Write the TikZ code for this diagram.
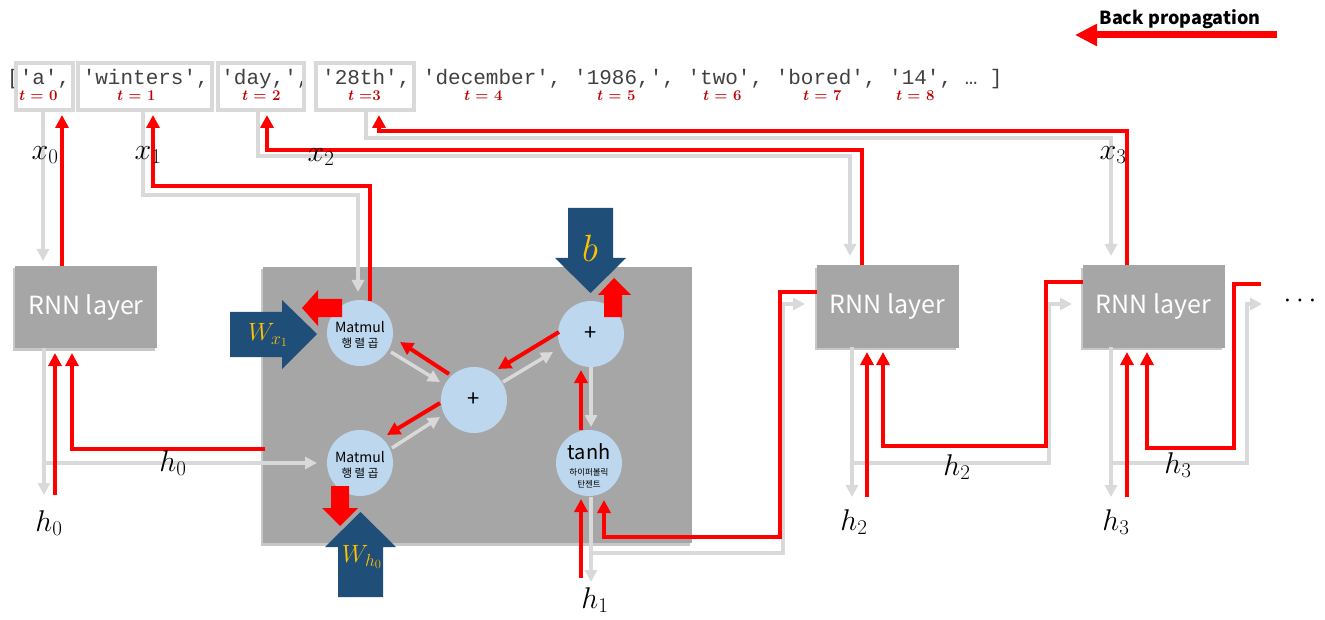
\RequirePackage{fix-cm}
\documentclass[tikz,border=0pt]{standalone}
\usepackage{fontspec}
\setmonofont{Liberation Mono}
\newfontfamily\krfont{Noto Sans CJK KR}
\usetikzlibrary{arrows.meta}
\definecolor{lg}{HTML}{D9D9D9}
\definecolor{boxg}{HTML}{A6A6A6}
\definecolor{cblue}{HTML}{BDD7EE}
\definecolor{dblue}{HTML}{1F4E79}
\definecolor{gold}{HTML}{FFC000}
\definecolor{dred}{HTML}{C00000}
\definecolor{rred}{HTML}{FF0000}
\definecolor{tokc}{HTML}{404040}
\begin{document}
\begin{tikzpicture}[x=1pt,y=-1pt,
 gl/.style={draw=lg,line width=3.5pt,-{Triangle[length=12pt,width=12pt]}},
 rl/.style={draw=rred,line width=4pt,-{Triangle[length=13pt,width=13pt]}},
 shadowfill/.style={fill=black,opacity=.22},
 rnn/.style={fill=boxg,minimum width=142pt,minimum height=82pt,inner sep=0pt,outer sep=0pt,text=white,font=\krfont\fontsize{25}{28}\selectfont},
 circ/.style={circle,fill=cblue,minimum size=66pt,inner sep=0pt,outer sep=0pt},
 txt/.style={inner sep=0pt,font=\krfont},
 lab/.style={font=\fontsize{30}{32}\selectfont,inner sep=0pt},
 glab/.style={font=\fontsize{25}{27}\selectfont,inner sep=0pt,text=gold},
 tl/.style={text=dred,font=\fontsize{15}{17}\selectfont\bfseries,inner sep=0pt},
 tokbox/.style={draw=lg,line width=3.5pt,inner sep=0pt,outer sep=0pt,minimum height=47pt},
]
\useasboundingbox (0,0) rectangle (1325,620);

% tokens
\node[anchor=base west,inner sep=0pt,text=tokc,font=\ttfamily\fontsize{21}{24}\selectfont] (toks) at (7,85) {['a', 'winters', 'day,', '28th', 'december', '1986,', 'two', 'bored', '14', … ]};
\node[tokbox,minimum width=57pt] (bA) at (44.5,86.5) {};
\node[tokbox,minimum width=134pt] (bW) at (145,86.5) {};
\node[tokbox,minimum width=86pt] (bD) at (261,86.5) {};
\node[tokbox,minimum width=98pt] (bT) at (365,86.5) {};
\node[tl] (t0) at (38,96) {\textit{t} = 0};
\node[tl] (t1) at (136,96) {\textit{t} = 1};
\node[tl] (t2) at (261,96) {\textit{t} = 2};
\node[tl] (t3) at (364,96) {\textit{t} =3};
\node[tl] (t4) at (483,96) {\textit{t} = 4};
\node[tl] (t5) at (616,96) {\textit{t} = 5};
\node[tl] (t6) at (722,96) {\textit{t} = 6};
\node[tl] (t7) at (822,96) {\textit{t} = 7};
\node[tl] (t8) at (915,96) {\textit{t} = 8};

% back propagation legend
\node[txt,font=\krfont\bfseries\fontsize{18}{20}\selectfont] (bp) at (1180,19) {Back propagation};
\coordinate (bpa) at (1277,35);
\coordinate (bpb) at (1075,35);
\draw[rred,line width=7pt,-{Triangle[length=22pt,width=21pt]}] (bpa) -- (bpb);

% shadows (left and below)
\fill[shadowfill] (12.5,268.5) rectangle (154.5,350.5);
\fill[shadowfill] (814.5,268.5) rectangle (955.5,349.5);
\fill[shadowfill] (1080.5,268.5) rectangle (1221.5,349.5);
\fill[shadowfill] (260.5,269.5) rectangle (689.5,545.5);

% boxes
\node[rnn] (rnn1) at (86,307) {RNN layer};
\node[rnn] (rnn2) at (887.5,306.5) {RNN layer};
\node[rnn] (rnn3) at (1153.5,306.5) {RNN layer};
\node[fill=boxg,minimum width=429pt,minimum height=276pt,inner sep=0pt,outer sep=0pt] (cell) at (477.5,405) {};

% circles
\node[circ] (mm1) at (360,333) {};
\node[circ] (mm2) at (360,463) {};
\node[circ] (p1) at (474,400) {};
\node[circ] (p2) at (591,334) {};
\node[circ] (th) at (589,463) {};
\node[txt,font=\krfont\fontsize{14}{15}\selectfont] (mm1a) at (360,327) {Matmul};
\node[txt,font=\krfont\fontsize{11.5}{12}\selectfont] (mm1b) at (360,343) {행\hspace{2.5pt}렬\hspace{2.5pt}곱};
\node[txt,font=\krfont\fontsize{14}{15}\selectfont] (mm2a) at (360,457) {Matmul};
\node[txt,font=\krfont\fontsize{11.5}{12}\selectfont] (mm2b) at (360,473) {행\hspace{2.5pt}렬\hspace{2.5pt}곱};
\node[txt,font=\krfont\fontsize{22}{24}\selectfont] (p1t) at (474,400) {+};
\node[txt,font=\krfont\fontsize{22}{24}\selectfont] (p2t) at (591,334) {+};
\node[txt,font=\krfont\fontsize{20}{22}\selectfont] (tha) at (589,452) {tanh};
\node[txt,font=\krfont\fontsize{8.5}{9}\selectfont] (thb) at (589,472) {하이퍼볼릭};
\node[txt,font=\krfont\fontsize{8.5}{9}\selectfont] (thc) at (589,484) {탄젠트};

% x inputs and their gradients
\draw[gl] ([xshift=-1.5pt]bA.south) -- (43,261);
\draw[rl] ([xshift=-24pt]rnn1.north) -- ([xshift=17.5pt,yshift=-5pt]bA.south);
\draw[gl] ([xshift=-2pt]bW.south) |- (358,195) -- (358,292);
\draw[rl] (370,301) |- (153,186) -- ([xshift=8pt,yshift=-5pt]bW.south);
\draw[gl] ([xshift=-3pt]bD.south) |- (850,156) -- (850,256);
\draw[rl] ([xshift=-25.5pt]rnn2.north) |- (267,150) -- ([xshift=6pt,yshift=-5pt]bD.south);
\draw[gl] ([xshift=1pt]bT.south) |- (1111,138) -- (1111,256);
\draw[rl] ([xshift=-26.5pt]rnn3.north) |- (379,131) -- ([xshift=14pt,yshift=-5pt]bT.south);

% rnn1 outputs
\draw[gl] ([xshift=-42pt]rnn1.south) -- (44,495);
\draw[gl] (44,463) -- (317,463);
\draw[rl] (55,495) -- (55,353);
\draw[rl] (265,449) -| (72,353);

% inside the cell
\draw[gl] (391,352) -- (440,382);
\draw[rl] (449,374) -- (400,342);
\draw[gl] (392,448) -- (440,417);
\draw[rl] (440,403) -- (387,435);
\draw[gl] (503,382) -- (553,352);
\draw[rl] (559,332) -- (498,369);
\draw[gl] (591,367) -- (591,427);
\draw[rl] (581,430) -- (581,370);
\draw[gl] (591,497) -- (591,582);
\draw[gl] (591,553) -| (783,304) -- (805,304);
\draw[rl] (581,578) -- (581,499);
\draw[rl] (817,292) -| (780,537) -| (604,500);

% rnn2 outputs
\draw[gl] (852,347) -- (852,497);
\draw[gl] (852,463) -| (1049,304) -- (1072,304);
\draw[rl] (867,497) -- (867,352);
\draw[rl] (1083,282) -| (1046,446) -| (883,352);
% rnn3 outputs
\draw[gl] (1111,347) -- (1111,497);
\draw[gl] (1111,463) -| (1247,304) -- (1262,304);
\draw[rl] (1127,497) -- (1127,352);
\draw[rl] (1261,284) -| (1234,448) -| (1147,352);
\node[inner sep=0pt,font=\fontsize{28}{30}\selectfont] (dots) at (1300,301) {$\cdots$};

% weight arrows
\fill[dblue] (230,312) -- (282,312) -- (282,300) -- (317,334) -- (282,369) -- (282,357) -- (230,357) -- cycle;
\node[glab] (wx) at (268,335) {$W_{x_1}$};
\fill[dblue] (568,208) -- (613,208) -- (613,258) -- (626,258) -- (590.5,293) -- (555,258) -- (568,258) -- cycle;
\node[glab,font=\fontsize{38}{40}\selectfont] (bb) at (590,248) {$b$};
\fill[dblue] (338,597) -- (383,597) -- (383,547) -- (396,547) -- (360.5,512) -- (325,547) -- (338,547) -- cycle;
\node[glab] (wh) at (362,557) {$W_{h_0}$};

% gradient block arrows
\fill[rred] (342,299) -- (318,299) -- (318,290) -- (302,308) -- (318,326) -- (318,317) -- (342,317) -- cycle;
\fill[rred] (604,317) -- (604,295) -- (598,295) -- (614,278) -- (631,295) -- (622,295) -- (622,317) -- cycle;
\fill[rred] (331,486) -- (349,486) -- (349,508) -- (358,508) -- (340,526) -- (322,508) -- (331,508) -- cycle;

% labels
\node[lab] (lx0) at (45,155) {$x_0$};
\node[lab] (lx1) at (148,155) {$x_1$};
\node[lab] (lx2) at (321,157) {$x_2$};
\node[lab] (lx3) at (1113,155) {$x_3$};
\node[lab] (lh0a) at (173,463) {$h_0$};
\node[lab] (lh0b) at (49,523) {$h_0$};
\node[lab] (lh1) at (595,600) {$h_1$};
\node[lab] (lh2a) at (957,467) {$h_2$};
\node[lab] (lh2b) at (854,522) {$h_2$};
\node[lab] (lh3a) at (1178,465) {$h_3$};
\node[lab] (lh3b) at (1116,522) {$h_3$};
\end{tikzpicture}
\end{document}
